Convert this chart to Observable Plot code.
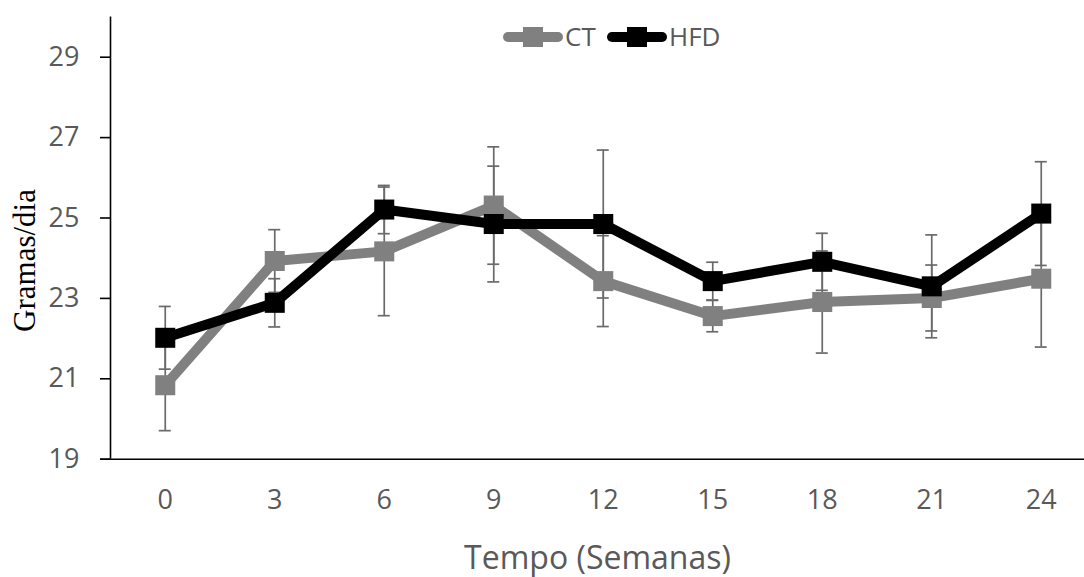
<!DOCTYPE html>
<html>
<head>
<meta charset="utf-8">
<script src="https://cdn.jsdelivr.net/npm/d3@7"></script>
<script src="https://cdn.jsdelivr.net/npm/@observablehq/plot@0.6"></script>
<style>
  html, body { margin: 0; padding: 0; background: #fff; }
  #chart { position: relative; width: 1084px; height: 577px; overflow: hidden; }
</style>
</head>
<body>
<div id="chart"></div>
<script>
// ---- data ----
const weeks = [0, 3, 6, 9, 12, 15, 18, 21, 24];
const ctValues = [20.84, 23.93, 24.17, 25.31, 23.43, 22.56, 22.91, 23.01, 23.49];
const ctErrors = [1.13, 0.78, 1.60, 1.46, 1.13, 0.39, 1.27, 0.82, 1.70];
const hfdValues = [22.02, 22.89, 25.21, 24.85, 24.85, 23.43, 23.91, 23.30, 25.11];
const hfdErrors = [0.78, 0.60, 0.60, 1.44, 1.84, 0.47, 0.71, 1.28, 1.29];
const seriesNames = ["CT", "HFD"];
const seriesColors = ["#808080", "#000000"];
const yTicks = [19, 21, 23, 25, 27, 29];
const xLabel = "Tempo (Semanas)";
const yLabel = "Gramas/dia";

// ---- table built from arrays ----
const rows = [];
weeks.forEach((w, i) => {
  rows.push({week: w, series: "CT", value: ctValues[i], err: ctErrors[i]});
});
weeks.forEach((w, i) => {
  rows.push({week: w, series: "HFD", value: hfdValues[i], err: hfdErrors[i]});
});
const ct = rows.filter(d => d.series === "CT");
const hfd = rows.filter(d => d.series === "HFD");

const W = 1084, H = 577;
const tickFont = "'Open Sans', 'DejaVu Sans', sans-serif";
const errColor = "#6a6a6a";

const plot = Plot.plot({
  width: W,
  height: H,
  marginLeft: 110,
  marginRight: 0,
  marginTop: 16.5,
  marginBottom: 118.3,
  style: {background: "#fff", fontFamily: tickFont},
  x: {domain: [-1.5, 25.5], range: [110, 1095.5], axis: null},
  y: {domain: [19, 30], axis: null},
  marks: [
    // error bars
    Plot.ruleX(rows, {x: "week", y1: d => d.value - d.err, y2: d => d.value + d.err, stroke: errColor, strokeWidth: 1.7}),
    Plot.ruleY(rows, {x1: "week", x2: "week", y: d => d.value + d.err, stroke: errColor, strokeWidth: 1.7, insetLeft: -6, insetRight: -6}),
    Plot.ruleY(rows, {x1: "week", x2: "week", y: d => d.value - d.err, stroke: errColor, strokeWidth: 1.7, insetLeft: -6, insetRight: -6}),
    // CT
    Plot.line(ct, {x: "week", y: "value", stroke: seriesColors[0], strokeWidth: 10, strokeLinejoin: "round", strokeLinecap: "round"}),
    Plot.dot(ct, {x: "week", y: "value", symbol: "square", r: 11.3, fill: seriesColors[0], stroke: "none"}),
    // HFD
    Plot.line(hfd, {x: "week", y: "value", stroke: seriesColors[1], strokeWidth: 10, strokeLinejoin: "round", strokeLinecap: "round"}),
    Plot.dot(hfd, {x: "week", y: "value", symbol: "square", r: 11.3, fill: seriesColors[1], stroke: "none"}),
    // axes
    Plot.ruleY([19], {stroke: "#000", strokeWidth: 1.6, insetLeft: -10}),
    Plot.ruleX([-1.5], {stroke: "#000", strokeWidth: 1.6}),
    Plot.axisY(yTicks, {anchor: "left", tickSize: 10, tickPadding: 21, stroke: "#000", strokeWidth: 1.6, fill: "#595959", fontSize: 27, label: null}),
    Plot.axisX(weeks, {anchor: "bottom", tickSize: 0, tickPadding: 31, fill: "#595959", fontSize: 27, label: null}),
    // axis titles
    Plot.text([xLabel], {frameAnchor: "bottom", text: d => d, lineAnchor: "bottom", dy: 109.5, fontSize: 32, fill: "#595959"}),
    Plot.text([yLabel], {frameAnchor: "left", text: d => d, rotate: -90, lineAnchor: "middle", textAnchor: "middle", dx: -85, dy: 22.4, fontSize: 31, fill: "#000", fontFamily: "'Liberation Serif', 'Times New Roman', serif"})
  ]
});

document.getElementById("chart").appendChild(plot);

// ---- legend (inside svg, top centre) ----
const svg = d3.select(plot);
const lg = svg.append("g").attr("class", "legend").attr("font-family", tickFont).attr("text-anchor", "start");
const legendItems = [
  {name: seriesNames[0], color: seriesColors[0], x0: 503},
  {name: seriesNames[1], color: seriesColors[1], x0: 607}
];
const ly = 37;
legendItems.forEach(it => {
  lg.append("line").attr("x1", it.x0 + 5).attr("x2", it.x0 + 55).attr("y1", ly).attr("y2", ly)
    .attr("stroke", it.color).attr("stroke-width", 10).attr("stroke-linecap", "round");
  lg.append("rect").attr("x", it.x0 + 20).attr("y", ly - 10).attr("width", 20).attr("height", 20).attr("fill", it.color);
  lg.append("text").attr("x", it.x0 + 62).attr("y", ly).attr("dy", "0.36em").attr("text-anchor", "start")
    .attr("font-size", 26).attr("fill", "#595959").text(it.name);
});
</script>
</body>
</html>
